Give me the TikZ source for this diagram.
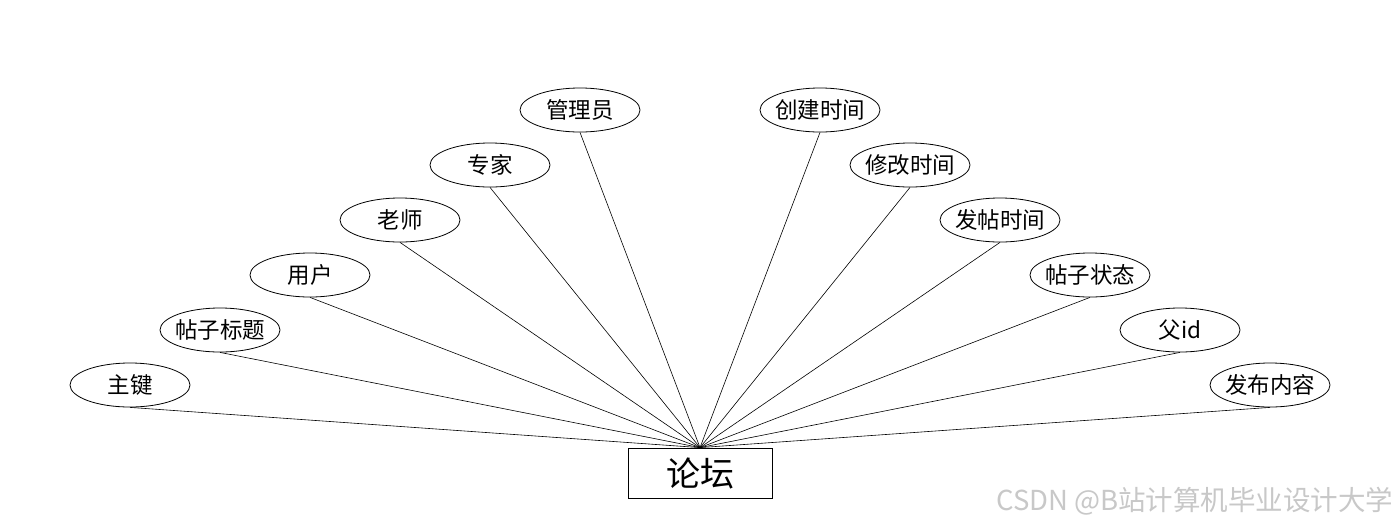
\documentclass[tikz,border=0pt]{standalone}
\usepackage{fontspec}
\setmainfont{Noto Sans CJK SC}
\usetikzlibrary{shapes.geometric}
\definecolor{watermark}{HTML}{C8C8C8}
% keep the ellipse size fixed whatever the label width
\newcommand{\attrlabel}[1]{\makebox[0pt]{\raisebox{-2pt}{#1}}}

\begin{document}
\begin{tikzpicture}[x=1pt,y=-1pt,
        attr/.style={ellipse,draw=black,fill=white,line width=0.8pt,
          minimum width=120pt,minimum height=44pt,inner sep=0pt,font=\fontsize{22.5}{26}\selectfont},
        entity/.style={rectangle,draw=black,line width=0.8pt,
          minimum width=144pt,minimum height=50pt,inner sep=0pt,font=\fontsize{34}{38}\selectfont},
        link/.style={draw=black,line width=0.6pt}]
        \useasboundingbox[fill=white] (0,0) rectangle (1400,528);
        % entity box and its attributes
        \node[entity] (forum) at (700,473) {\attrlabel{论坛}};
        \node[attr] (key) at (130,385) {\attrlabel{主键}};
        \node[attr] (title) at (220,330) {\attrlabel{帖子标题}};
        \node[attr] (user) at (310,275) {\attrlabel{用户}};
        \node[attr] (teacher) at (400,220) {\attrlabel{老师}};
        \node[attr] (expert) at (490,165) {\attrlabel{专家}};
        \node[attr] (admin) at (580,110) {\attrlabel{管理员}};
        \node[attr] (created) at (820,110) {\attrlabel{创建时间}};
        \node[attr] (modified) at (910,165) {\attrlabel{修改时间}};
        \node[attr] (posted) at (1000,220) {\attrlabel{发帖时间}};
        \node[attr] (status) at (1090,275) {\attrlabel{帖子状态}};
        \node[attr] (parent) at (1180,330) {\attrlabel{父id}};
        \node[attr] (content) at (1270,385) {\attrlabel{发布内容}};
        \foreach \a in {key,title,user,teacher,expert,admin,
                        created,modified,posted,status,parent,content}
          \draw[link] (\a.south) -- (forum.north);
        \node[text=watermark,anchor=east,font=\fontsize{27.5}{30}\selectfont] (mark) at (1397,501)
          {CSDN @B站计算机毕业设计大学};
\end{tikzpicture}
\end{document}
